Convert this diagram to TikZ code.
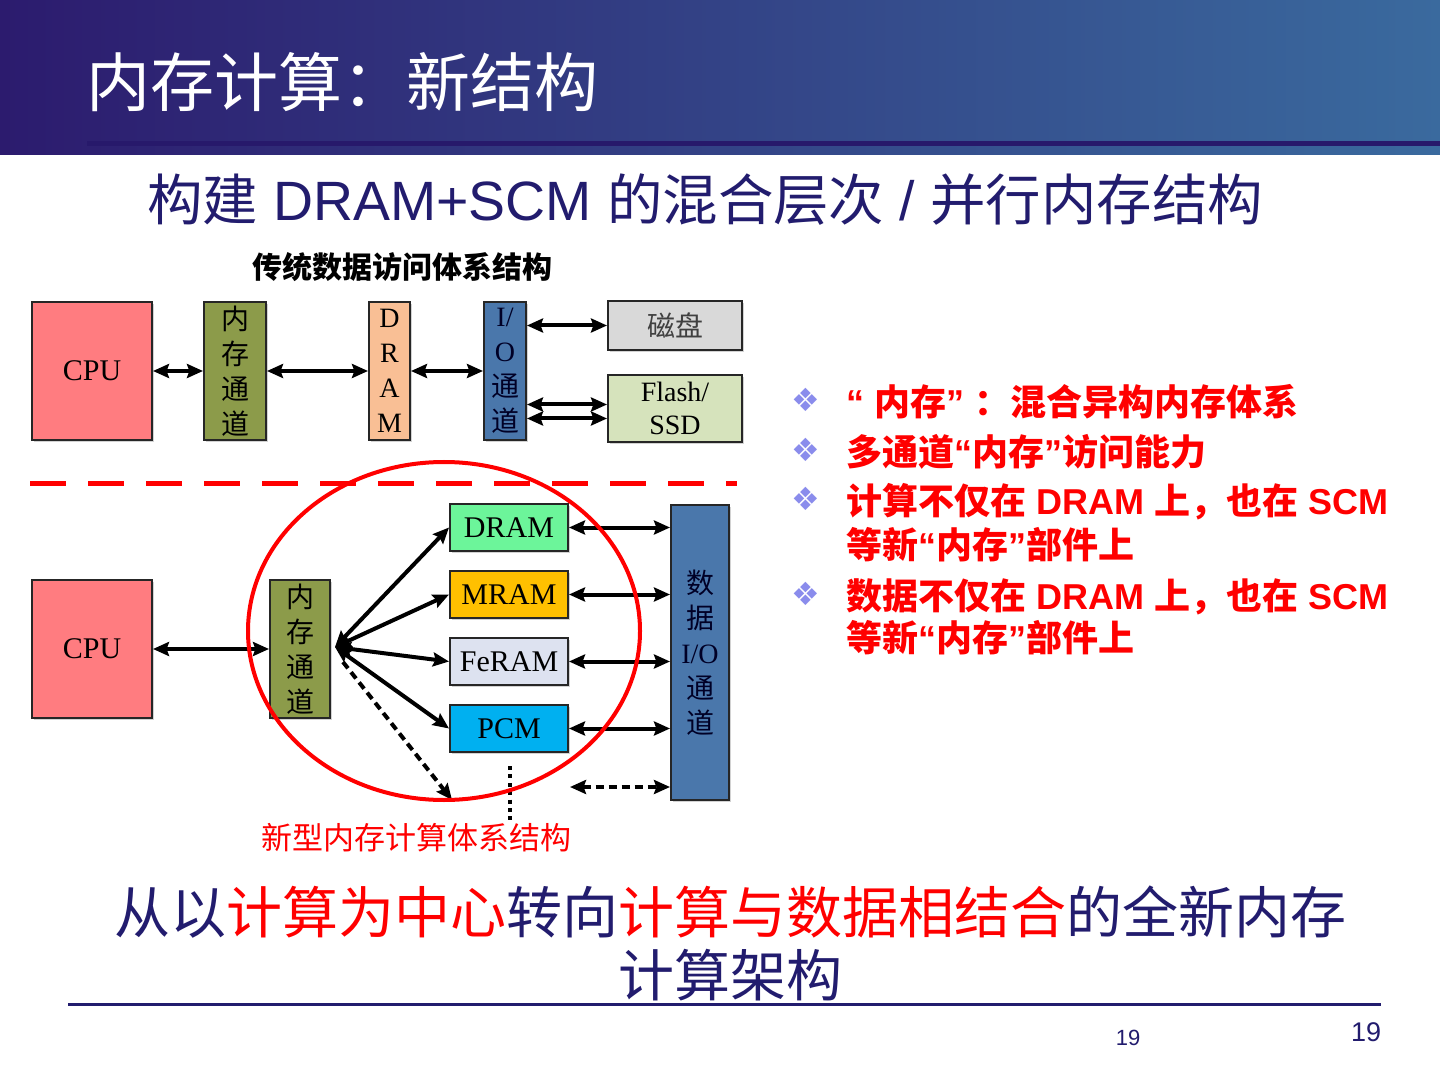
\documentclass[tikz,border=0pt]{standalone}
\usepackage{fontspec}
\setmainfont{Liberation Serif}
\newfontfamily\sans{Liberation Sans}
\newfontfamily\cjk{Noto Sans CJK SC}
\newfontfamily\dejavu{DejaVu Sans}
\usetikzlibrary{arrows.meta,calc,shadows}
\definecolor{hdl}{HTML}{2C1B6E}
\definecolor{hdr}{HTML}{3A6A9E}
\definecolor{hdline}{HTML}{27196B}
\definecolor{navy}{HTML}{221C6E}
\definecolor{cpuc}{HTML}{FF7C80}
\definecolor{olive}{HTML}{8C9B4A}
\definecolor{peach}{HTML}{F9BF95}
\definecolor{steel}{HTML}{4A77AB}
\definecolor{diskc}{HTML}{D9D9D9}
\definecolor{flashc}{HTML}{D6E3BC}
\definecolor{dramg}{HTML}{6CF59A}
\definecolor{mramc}{HTML}{FFC000}
\definecolor{feramc}{HTML}{DDE2F0}
\definecolor{pcmc}{HTML}{00B0F0}
\definecolor{bulc}{HTML}{8A8CEC}
\definecolor{redt}{HTML}{FF0000}
\tikzset{
  box/.style={draw=black!85, line width=1pt, inner sep=0pt,
    drop shadow={shadow xshift=1.2pt, shadow yshift=-1.2pt, opacity=0.35}},
  boxtext/.style={font=\fontsize{15}{18}\selectfont},
  vtext/.style={align=center, font=\fontsize{14}{17.5}\selectfont},
  vcjk/.style={align=center, font=\cjk\fontsize{14}{17.5}\selectfont},
  biarrow/.style={{Stealth[length=8pt,width=7pt,inset=1.2pt]}-{Stealth[length=8pt,width=7pt,inset=1.2pt]}, line width=2pt, black},
  onearrow/.style={-{Stealth[length=8pt,width=7pt,inset=1.2pt]}, line width=2pt, black},
}
\begin{document}
\begin{tikzpicture}[x=0.5pt,y=-0.5pt]
\useasboundingbox (0,0) rectangle (1440,1080);
\fill[white] (0,0) rectangle (1440,1080);
% header
\shade[left color=hdl, right color=hdr] (0,0) rectangle (1440,155);
\fill[hdline] (87,141) rectangle (1440,146);
\node[anchor=west, text=white, inner sep=0pt] (title) at (86,82) {\cjk\fontsize{32}{32}\selectfont 内存计算：新结构};
% subtitle
\node[text=navy, inner sep=0pt] (sub) at (705,200) {\sans\fontsize{27.7}{27.7}\selectfont {\cjk 构建} DRAM+SCM {\cjk 的混合层次} / {\cjk 并行内存结构}};

% upper diagram
\node[inner sep=0pt] (uptitle) at (402,267) {\cjk\bfseries\fontsize{15}{15}\selectfont 传统数据访问体系结构};
\node[box, fill=cpuc, minimum width=60pt, minimum height=69pt, boxtext] (cpu1) at (92,371) {CPU};
\node[box, fill=olive, minimum width=31pt, minimum height=69pt, vcjk] (mc1) at (235,371) {内\\存\\通\\道};
\node[box, fill=peach, minimum width=20.5pt, minimum height=69pt, vtext] (dram1) at (389.5,371) {D\\R\\A\\M};
\node[box, fill=steel, minimum width=21pt, minimum height=69pt, vtext, text=black!85!blue] (io1) at (505,371) {I/\\O\\{\cjk 通}\\{\cjk 道}};
\node[box, fill=diskc, minimum width=67pt, minimum height=24.5pt, font=\cjk\fontsize{14}{14}\selectfont, text=black!75] (disk) at (675,325.5) {磁盘};
\node[box, fill=flashc, minimum width=67pt, minimum height=33.5pt, align=center, font=\fontsize{14}{16.5}\selectfont] (flash) at (675,408.5) {Flash/\\SSD};

\draw[biarrow] (cpu1.east) -- (mc1.west);
\draw[biarrow] (mc1.east) -- (dram1.west);
\draw[biarrow] (dram1.east) -- (io1.west);
\draw[biarrow] (io1.east |- disk.west) -- (disk.west);
\draw[biarrow] ($(io1.east |- flash.west)+(0,-4)$) -- ($(flash.west)+(0,-4)$);
\draw[biarrow] ($(io1.east |- flash.west)+(0,10)$) -- ($(flash.west)+(0,10)$);

% separator
\coordinate (sepa) at (30,483);
\coordinate (sepb) at (737,483);
\draw[redt, line width=2.5pt, dash pattern=on 18pt off 11pt] (sepa) -- (sepb);

% lower diagram
\node[box, fill=cpuc, minimum width=60pt, minimum height=69pt, boxtext] (cpu2) at (92,649) {CPU};
\node[box, fill=olive, minimum width=30pt, minimum height=69pt, vcjk] (mc2) at (300,649) {内\\存\\通\\道};
\node[box, fill=dramg, minimum width=59pt, minimum height=23.5pt, boxtext] (dram2) at (509,527.5) {DRAM};
\node[box, fill=mramc, minimum width=59pt, minimum height=23.5pt, boxtext] (mram) at (509,594.5) {MRAM};
\node[box, fill=feramc, minimum width=59pt, minimum height=23.5pt, boxtext] (feram) at (509,661.5) {FeRAM};
\node[box, fill=pcmc, minimum width=59pt, minimum height=23.5pt, boxtext] (pcm) at (509,728.5) {PCM};
\node[box, fill=steel, minimum width=29pt, minimum height=147.5pt, vtext, text=black!85!blue] (dio) at (700,652.5) {{\cjk 数}\\{\cjk 据}\\I/O\\{\cjk 通}\\{\cjk 道}};

\coordinate (hub) at (335,647);
\draw[biarrow] (hub) -- (dram2.west);
\draw[biarrow] (hub) -- (mram.west);
\draw[biarrow] (hub) -- (feram.west);
\draw[biarrow] (hub) -- (pcm.west);
\draw[biarrow] (cpu2.east) -- (mc2.west);
\coordinate (dstart) at (343,662);
\coordinate (dend) at (452,800);
\draw[onearrow, dash pattern=on 4pt off 2.5pt] (dstart) -- (dend);
\foreach \b in {dram2,mram,feram,pcm}{
  \draw[biarrow] (\b.east) -- (dio.west |- \b.east);
}
\coordinate (dq) at (570,787);
\draw[biarrow, dash pattern=on 4pt off 2.5pt] (dq) -- (dio.west |- dq);
\coordinate (dota) at (510,766);
\coordinate (dotb) at (510,820);
\draw[line width=2pt, dash pattern=on 2pt off 2.2pt] (dota) -- (dotb);

\draw[redt, line width=2pt] (444,631) ellipse [x radius=196, y radius=169];
\node[text=redt, inner sep=0pt] (lowtitle) at (416,838) {\cjk\fontsize{15.5}{15.5}\selectfont 新型内存计算体系结构};

% bullets
\foreach \y/\n in {400/b1,450/b2,499/b3,594/b4}{
  \node[text=bulc, inner sep=0pt] (\n) at (806,\y) {\dejavu\fontsize{16}{16}\selectfont ❖};
}
\begin{scope}[every node/.style={anchor=west, text=redt, inner sep=0pt, font=\sans\bfseries\fontsize{18}{18}\selectfont}]
\node (t1) at (846,402) {“ {\cjk\bfseries 内存}” {\cjk\bfseries ：混合异构内存体系}};
\node (t2) at (846,452) {{\cjk\bfseries 多通道}“{\cjk\bfseries 内存}”{\cjk\bfseries 访问能力}};
\node (t3) at (846,502) {{\cjk\bfseries 计算不仅在} DRAM {\cjk\bfseries 上，也在} SCM};
\node (t3b) at (846,545) {{\cjk\bfseries 等新}“{\cjk\bfseries 内存}”{\cjk\bfseries 部件上}};
\node (t4) at (846,597) {{\cjk\bfseries 数据不仅在} DRAM {\cjk\bfseries 上，也在} SCM};
\node (t4b) at (846,638) {{\cjk\bfseries 等新}“{\cjk\bfseries 内存}”{\cjk\bfseries 部件上}};
\end{scope}

% bottom
\node[text=navy, inner sep=0pt] (conc1) at (730,912) {\cjk\fontsize{28}{28}\selectfont 从以\textcolor{redt}{计算为中心}转向\textcolor{redt}{计算与数据相结合}的全新内存};
\node[text=navy, inner sep=0pt] (conc2) at (730,975) {\cjk\fontsize{28}{28}\selectfont 计算架构};
\coordinate (la) at (68,1004);
\coordinate (lb) at (1381,1004);
\draw[navy, line width=1.5pt] (la) -- (lb);
\node[text=navy, inner sep=0pt] (pg1) at (1128,1038) {\sans\fontsize{11}{11}\selectfont 19};
\node[text=navy, inner sep=0pt] (pg2) at (1366,1032) {\sans\fontsize{13.5}{13.5}\selectfont 19};
\end{tikzpicture}
\end{document}
